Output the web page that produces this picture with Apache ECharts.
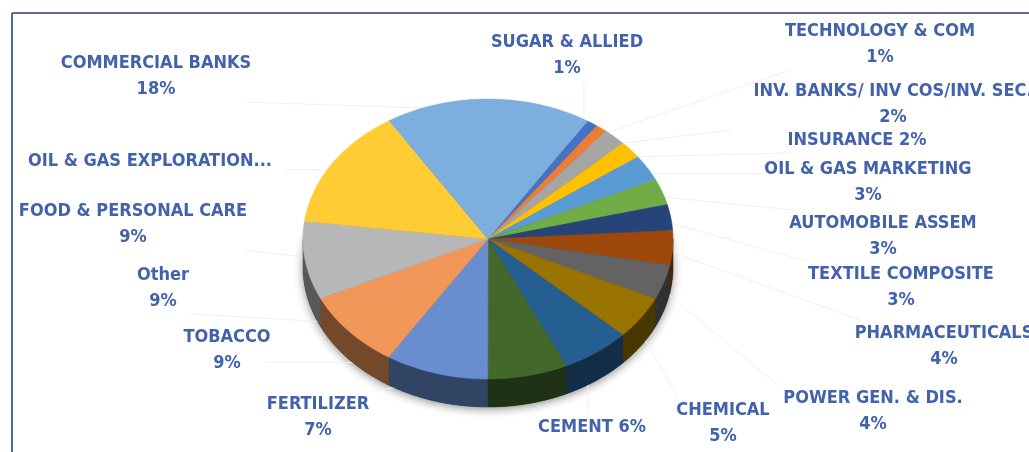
<!DOCTYPE html>
<html>
<head>
<meta charset="utf-8">
<script src="https://cdn.jsdelivr.net/npm/echarts@6/dist/echarts.min.js"></script>
<style>
  html, body { margin: 0; padding: 0; background: #fff; }
  #chart { width: 1029px; height: 452px; }
</style>
</head>
<body>
<div id="chart"></div>
<script>
// sectors in clockwise order, starting from the first slice
var sectors = ["SUGAR & ALLIED", "TECHNOLOGY & COM", "INV. BANKS/ INV COS/INV. SEC.", "INSURANCE",
  "OIL & GAS MARKETING", "AUTOMOBILE ASSEM", "TEXTILE COMPOSITE", "PHARMACEUTICALS",
  "POWER GEN. & DIS.", "CHEMICAL", "CEMENT", "FERTILIZER", "TOBACCO", "Other",
  "FOOD & PERSONAL CARE", "OIL & GAS EXPLORATION...", "COMMERCIAL BANKS"];
var shares = [1, 1, 2, 2, 3, 3, 3, 4, 4, 5, 6, 7, 9, 9, 9, 14, 18];
// labels written on one line / without the percentage
var oneLine = ["INSURANCE", "CEMENT"];
var nameOnly = ["OIL & GAS EXPLORATION..."];

var colors = ["#4472C4", "#ED7D31", "#A5A5A5", "#FFC000", "#5B9BD5", "#70AD47", "#264478", "#9E480E",
  "#636363", "#997300", "#255E91", "#43682B", "#698ED0", "#F1975A", "#B7B7B7", "#FFCD33", "#7CAFDD"];
// label centres (excel put them by hand)
var labelPos = [[567, 55], [880, 44], [893, 104], [857, 140], [868, 182], [883, 236], [901, 287],
  [944, 346], [873, 411], [723, 423], [592, 427], [318, 417], [227, 350], [163, 288], [133, 224],
  [150, 161], [156, 76]];

// pie geometry
var cx = 488, cy = 239, rx = 185, ry = 140, depth = 28, startDeg = 32.5;

var total = shares.reduce(function (a, b) { return a + b; }, 0);
var cum = [0];
shares.forEach(function (v, i) { cum.push(cum[i] + v); });

function pt(deg, dy, k) {
  var r = deg * Math.PI / 180;
  k = k || 1;
  return [cx + rx * k * Math.sin(r), cy + (dy || 0) - ry * k * Math.cos(r)];
}
function arc(a1, a2, dy) {
  var pts = [];
  var n = Math.max(2, Math.ceil((a2 - a1) / 0.5));
  for (var j = 0; j <= n; j++) pts.push(pt(a1 + (a2 - a1) * j / n, dy));
  return pts;
}
function darken(hex, f) {
  var n = parseInt(hex.slice(1), 16);
  var r = Math.round(((n >> 16) & 255) * f), g = Math.round(((n >> 8) & 255) * f), b = Math.round((n & 255) * f);
  return "rgb(" + r + "," + g + "," + b + ")";
}

function renderItem(params, api) {
  var i = params.dataIndex;
  var a1 = startDeg + cum[i] / total * 360;
  var a2 = a1 + api.value(0) / total * 360;
  var children = [];

  if (i === 0) {
    // soft shadow under the whole pie
    children.push({
      type: "polygon", z2: -5,
      shape: { points: arc(0, 360, depth) },
      style: { fill: "#333", shadowBlur: 10, shadowOffsetY: 2, shadowColor: "rgba(0,0,0,0.45)" }
    });
  }

  // side wall, only the front half shows
  [[90, 270], [450, 630]].forEach(function (w) {
    var s = Math.max(a1, w[0]), e = Math.min(a2, w[1]);
    if (e > s) {
      var side = darken(colors[i], 0.48);
      children.push({
        type: "polygon", z2: 5,
        shape: { points: arc(s, e, 0).concat(arc(s, e, depth).reverse()) },
        style: { fill: side, stroke: side, lineWidth: 0.5 }
      });
    }
  });

  // top face
  children.push({
    type: "polygon", z2: 10,
    shape: { points: [[cx, cy]].concat(arc(a1, a2, 0)) },
    style: { fill: colors[i], stroke: colors[i], lineWidth: 0.5 }
  });

  // label
  var name = sectors[i];
  var pct = Math.round(api.value(0) / total * 100) + "%";
  var text = nameOnly.indexOf(name) >= 0 ? name : (oneLine.indexOf(name) >= 0 ? name + " " + pct : name + "\n" + pct);
  var lines = text.split("\n");
  var maxLen = Math.max.apply(null, lines.map(function (s) { return s.length; }));
  var lp = labelPos[i];
  var hw = maxLen * 5.6, hh = lines.length * 13;
  children.push({
    type: "text", z2: 20, x: lp[0], y: lp[1],
    style: {
      text: text, fill: "#4262AC", align: "center", verticalAlign: "middle",
      fontFamily: "'DejaVu Sans Condensed', 'DejaVu Sans', sans-serif",
      fontWeight: "bold", fontSize: 18, lineHeight: 26
    }
  });

  // faint leader line from the slice to the label box
  var mid = pt((a1 + a2) / 2, 0, 0.92);
  var ex = Math.min(Math.max(mid[0], lp[0] - hw), lp[0] + hw);
  var ey = Math.min(Math.max(mid[1], lp[1] - hh), lp[1] + hh);
  children.push({
    type: "polyline", z2: -1,
    shape: { points: [mid, [ex, ey]] },
    style: { stroke: "#f0f0f0", lineWidth: 1, fill: null }
  });

  return { type: "group", children: children };
}

var chart = echarts.init(document.getElementById("chart"));
chart.setOption({
  animation: false,
  backgroundColor: "#fff",
  graphic: [
    { type: "line", shape: { x1: 12, y1: 13, x2: 1029, y2: 13 }, style: { stroke: "#5d6f8c", lineWidth: 2 } },
    { type: "line", shape: { x1: 12, y1: 13, x2: 12, y2: 452 }, style: { stroke: "#4a66b8", lineWidth: 2 } }
  ],
  series: [{
    type: "custom",
    coordinateSystem: "none",
    renderItem: renderItem,
    data: shares.map(function (v, i) { return { name: sectors[i], value: [v] }; })
  }]
});
</script>
</body>
</html>
